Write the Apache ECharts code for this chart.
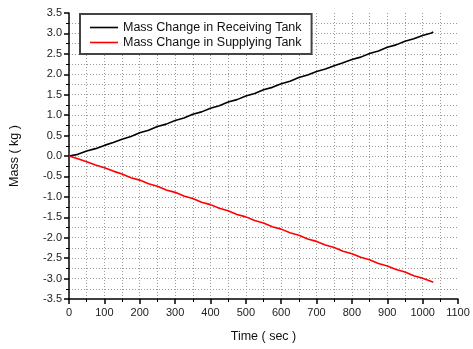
<!DOCTYPE html>
<html>
<head>
<meta charset="utf-8">
<script src="https://cdn.jsdelivr.net/npm/echarts@6/dist/echarts.min.js"></script>
<style>html,body{margin:0;padding:0;background:#fff;}#c{width:473px;height:349px;}</style>
</head>
<body>
<div id="c"></div>
<script>
var times = [0,25,50,75,100,125,150,175,200,225,250,275,300,325,350,375,400,425,450,475,500,525,550,575,600,625,650,675,700,725,750,775,800,825,850,875,900,925,950,975,1000,1025,1030];
var receiving = [0,0.04,0.12,0.18,0.26,0.33,0.41,0.48,0.57,0.63,0.72,0.78,0.87,0.93,1.02,1.08,1.17,1.23,1.32,1.38,1.47,1.53,1.62,1.68,1.77,1.83,1.92,1.98,2.07,2.13,2.21,2.28,2.36,2.42,2.51,2.57,2.66,2.72,2.81,2.87,2.95,3.01,3.04];
var supplying = [0,-0.07,-0.14,-0.22,-0.29,-0.37,-0.44,-0.53,-0.59,-0.68,-0.74,-0.83,-0.89,-0.98,-1.04,-1.13,-1.19,-1.28,-1.34,-1.43,-1.49,-1.58,-1.64,-1.73,-1.79,-1.88,-1.94,-2.03,-2.09,-2.18,-2.24,-2.33,-2.39,-2.48,-2.54,-2.63,-2.69,-2.78,-2.84,-2.93,-2.99,-3.07,-3.09];
var seriesNames = ['Mass Change in Receiving Tank','Mass Change in Supplying Tank'];
var xName = 'Time ( sec )';
var yName = 'Mass ( kg )';

function pairs(xs, ys){ return xs.map(function(x,i){ return [x, ys[i]]; }); }

var font = 'Liberation Sans, Arial, sans-serif';
var dotted = {color:'#9a9a9a', type:[1,2], width:1};
var chart = echarts.init(document.getElementById('c'), null, {renderer:'canvas'});
chart.setOption({
  animation:false,
  backgroundColor:'#fff',
  grid:{left:69, right:15, top:13, bottom:50, containLabel:false},
  legend:{
    left:80, top:14, orient:'vertical',
    data:seriesNames.map(function(n){ return {name:n, icon:'rect'}; }),
    backgroundColor:'#fff', borderColor:'#444', borderWidth:2, borderRadius:0,
    padding:[6,10,4,10], itemGap:0, itemWidth:28, itemHeight:1.6,
    textStyle:{fontFamily:font, fontSize:12.5, color:'#111', lineHeight:15, height:15}
  },
  xAxis:{
    type:'value', min:0, max:1100, interval:100,
    name:xName, nameLocation:'middle', nameGap:31,
    nameTextStyle:{fontFamily:font, fontSize:12.5, color:'#111'},
    axisLine:{show:true, onZero:false, lineStyle:{color:'#000', width:1.5}},
    axisTick:{show:true, length:5, lineStyle:{color:'#000', width:1.5}},
    minorTick:{show:true, splitNumber:2, length:3, lineStyle:{color:'#000', width:1}},
    axisLabel:{fontFamily:font, fontSize:11, color:'#222', margin:8, formatter:function(v){return String(v);}},
    splitLine:{show:true, showMinLine:false, showMaxLine:false, lineStyle:dotted},
    minorSplitLine:{show:true, lineStyle:dotted}
  },
  yAxis:{
    type:'value', min:-3.5, max:3.5, interval:0.5,
    name:yName, nameLocation:'middle', nameGap:48, nameRotate:90,
    nameTextStyle:{fontFamily:font, fontSize:12.5, color:'#111'},
    axisLine:{show:true, onZero:false, lineStyle:{color:'#000', width:1.5}},
    axisTick:{show:true, length:5, lineStyle:{color:'#000', width:1.5}},
    minorTick:{show:true, splitNumber:2, length:3, lineStyle:{color:'#000', width:1}},
    axisLabel:{fontFamily:font, fontSize:11, color:'#222', margin:7, formatter:function(v){return v.toFixed(1);}},
    splitLine:{show:true, showMinLine:false, showMaxLine:false, lineStyle:dotted},
    minorSplitLine:{show:true, lineStyle:dotted}
  },
  series:[
    {name:seriesNames[0], type:'line', symbol:'none', data:pairs(times, receiving),
     lineStyle:{color:'#000', width:1.6}, itemStyle:{color:'#000'}},
    {name:seriesNames[1], type:'line', symbol:'none', data:pairs(times, supplying),
     lineStyle:{color:'#ff0000', width:1.6}, itemStyle:{color:'#ff0000'}}
  ]
});
</script>
</body>
</html>
